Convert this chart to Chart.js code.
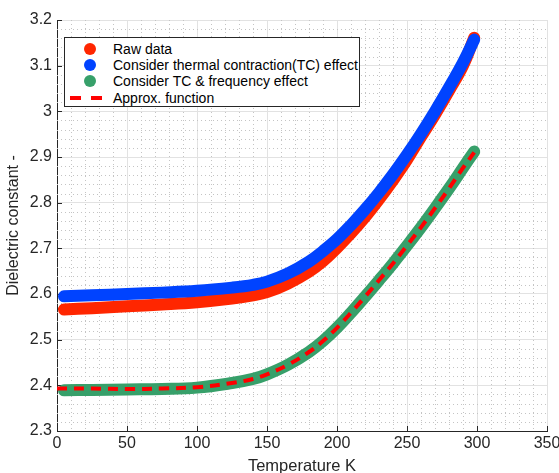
<!DOCTYPE html>
<html>
<head>
<meta charset="utf-8">
<script src="https://cdn.jsdelivr.net/npm/chart.js@4"></script>
<style>
html, body { margin: 0; padding: 0; background: #fff; }
#wrap { position: relative; width: 559px; height: 473px; overflow: hidden; }
#legend {
  position: absolute; left: 64px; top: 37px; width: 296px; height: 70px;
  box-sizing: border-box; border: 1px solid #262626; background: #fff;
  font: 14px "Liberation Sans", Arial, sans-serif; color: #000;
}
.row { position: absolute; left: 0; height: 16px; line-height: 16px; white-space: nowrap; }
.dot { position: absolute; left: 19px; top: 2px; width: 12px; height: 12px; border-radius: 50%; }
.dash { position: absolute; top: 6px; width: 11px; height: 4px; }
.txt { position: absolute; left: 48px; top: 0; }
</style>
</head>
<body>
<div id="wrap">
  <canvas id="chart" width="559" height="473"></canvas>
  <div id="legend"></div>
</div>
<script>
/* global Chart */

// values
const temps = [5, 25, 50, 75, 100, 125, 140, 150, 165, 180, 190, 200, 210, 220, 230, 240, 250, 260, 270, 280, 290, 298];
const rawData = [2.566, 2.569, 2.573, 2.577, 2.582, 2.590, 2.597, 2.604, 2.623, 2.649, 2.672, 2.701, 2.733, 2.768, 2.807, 2.849, 2.894, 2.944, 2.993, 3.045, 3.100, 3.161];
const tcData = [2.595, 2.597, 2.600, 2.603, 2.607, 2.614, 2.620, 2.627, 2.645, 2.671, 2.694, 2.720, 2.751, 2.785, 2.822, 2.862, 2.905, 2.951, 3.000, 3.052, 3.107, 3.157];
const tcFreqData = [2.389, 2.390, 2.391, 2.392, 2.395, 2.405, 2.414, 2.424, 2.445, 2.473, 2.497, 2.526, 2.559, 2.594, 2.630, 2.667, 2.706, 2.746, 2.788, 2.831, 2.876, 2.912];
const approxTemps = [0, 25, 50, 75, 100, 125, 140, 150, 165, 180, 190, 200, 210, 220, 230, 240, 250, 260, 270, 280, 290, 298];
const approxData = [2.393, 2.393, 2.392, 2.393, 2.396, 2.405, 2.414, 2.424, 2.445, 2.473, 2.497, 2.526, 2.559, 2.594, 2.630, 2.667, 2.706, 2.746, 2.788, 2.831, 2.876, 2.910];

const seriesLabels = ['Raw data', 'Consider thermal contraction(TC) effect', 'Consider TC & frequency effect', 'Approx. function'];
const seriesColors = ['#ff2600', '#0043ff', '#37a06a', '#ff0000'];

const xTicks = [0, 50, 100, 150, 200, 250, 300, 350];
const yTicks = [2.3, 2.4, 2.5, 2.6, 2.7, 2.8, 2.9, 3.0, 3.1, 3.2];
const yTickLabels = ['2.3', '2.4', '2.5', '2.6', '2.7', '2.8', '2.9', '3', '3.1', '3.2'];

const FONT = '"Liberation Sans", Arial, sans-serif';
const AXIS = '#262626';

const toPoints = (xs, ys) => xs.map((x, i) => ({x, y: ys[i]}));

const band = (i, xs, ys, order) => ({
  label: seriesLabels[i],
  data: toPoints(xs, ys),
  borderColor: seriesColors[i],
  backgroundColor: seriesColors[i],
  borderWidth: 12,
  borderCapStyle: 'round',
  borderJoinStyle: 'round',
  pointRadius: 0,
  tension: 0.4,
  order
});

// dotted minor grid + inward ticks, drawn under the data
const axisExtras = {
  id: 'axisExtras',
  beforeDatasetsDraw(chart) {
    const {ctx, chartArea: a, scales: {x, y}} = chart;
    ctx.save();
    ctx.strokeStyle = '#c4c4c4';
    ctx.lineWidth = 1;
    ctx.setLineDash([1, 3]);
    ctx.beginPath();
    for (let i = 0; i < xTicks.length - 1; i++) {
      for (let k = 1; k < 5; k++) {
        const px = Math.round(x.getPixelForValue(xTicks[i] + (xTicks[i + 1] - xTicks[i]) * k / 5)) + 0.5;
        ctx.moveTo(px, a.top);
        ctx.lineTo(px, a.bottom);
      }
    }
    for (let i = 0; i < yTicks.length - 1; i++) {
      for (let k = 1; k < 5; k++) {
        const py = Math.round(y.getPixelForValue(yTicks[i] + (yTicks[i + 1] - yTicks[i]) * k / 5)) + 0.5;
        ctx.moveTo(a.left, py);
        ctx.lineTo(a.right, py);
      }
    }
    ctx.stroke();
    ctx.setLineDash([]);
    ctx.strokeStyle = AXIS;
    ctx.beginPath();
    xTicks.forEach(v => {
      const px = Math.round(x.getPixelForValue(v)) + 0.5;
      ctx.moveTo(px, a.bottom);
      ctx.lineTo(px, a.bottom - 5);
    });
    yTicks.forEach(v => {
      const py = Math.round(y.getPixelForValue(v)) + 0.5;
      ctx.moveTo(a.left, py);
      ctx.lineTo(a.left + 5, py);
    });
    ctx.stroke();
    ctx.restore();
  }
};

const chart = new Chart(document.getElementById('chart').getContext('2d'), {
  type: 'line',
  data: {
    datasets: [
      band(0, temps, rawData, 4),
      band(1, temps, tcData, 3),
      band(2, temps, tcFreqData, 2),
      {
        label: seriesLabels[3],
        data: toPoints(approxTemps, approxData),
        borderColor: seriesColors[3],
        borderWidth: 4,
        borderDash: [10, 7],
        pointRadius: 0,
        tension: 0.4,
        order: 1
      }
    ]
  },
  options: {
    responsive: false,
    animation: false,
    devicePixelRatio: 1,
    layout: {padding: {left: 0, top: 20, right: 12, bottom: 0}},
    plugins: {legend: {display: false}, tooltip: {enabled: false}},
    scales: {
      x: {
        type: 'linear',
        min: 0,
        max: 350,
        afterBuildTicks: s => { s.ticks = xTicks.map(value => ({value})); },
        afterFit: s => { s.height = 42; s.paddingLeft = 0; s.paddingRight = 0; },
        ticks: {color: AXIS, font: {family: FONT, size: 16}, padding: 3, maxRotation: 0},
        grid: {color: '#e2e2e2', drawTicks: false},
        border: {color: AXIS},
        title: {display: true, text: 'Temperature K', color: AXIS, font: {family: FONT, size: 16.5}, padding: {top: 0, bottom: -3}}
      },
      y: {
        type: 'linear',
        min: 2.3,
        max: 3.2,
        afterBuildTicks: s => { s.ticks = yTicks.map(value => ({value})); },
        afterFit: s => { s.width = 57; s.paddingTop = 0; s.paddingBottom = 0; },
        ticks: {
          color: AXIS,
          font: {family: FONT, size: 16},
          padding: 5,
          callback: (v) => yTickLabels[yTicks.findIndex(t => Math.abs(t - v) < 1e-6)]
        },
        grid: {color: '#e2e2e2', drawTicks: false},
        border: {color: AXIS},
        title: {display: true, text: 'Dielectric constant -', color: AXIS, font: {family: FONT, size: 16}, padding: {top: 4, bottom: 0}}
      }
    }
  },
  plugins: [axisExtras]
});

// legend box inside the axes, like the original
const legend = document.getElementById('legend');
const rowTops = [3, 19, 35, 52];
seriesLabels.forEach((label, i) => {
  const row = document.createElement('div');
  row.className = 'row';
  row.style.top = rowTops[i] + 'px';
  if (i < 3) {
    row.innerHTML = `<span class="dot" style="background:${seriesColors[i]}"></span>`;
  } else {
    row.innerHTML = `<span class="dash" style="left:5px;background:${seriesColors[i]}"></span>` +
      `<span class="dash" style="left:26px;background:${seriesColors[i]}"></span>`;
  }
  const txt = document.createElement('span');
  txt.className = 'txt';
  txt.textContent = label;
  row.appendChild(txt);
  legend.appendChild(row);
});
</script>
</body>
</html>
